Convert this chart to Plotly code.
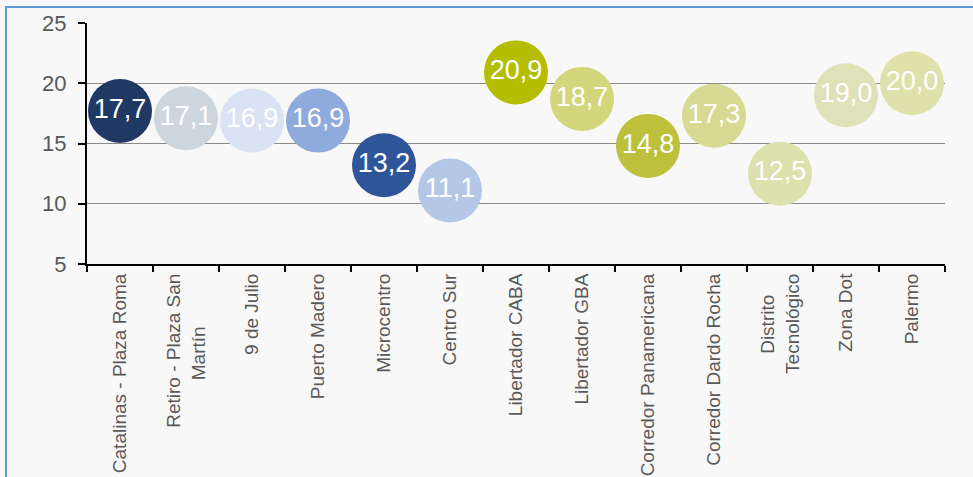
import plotly.graph_objects as go

NB = "\u00a0"
categories = ["Catalinas - Plaza Roma", "Retiro - Plaza San<br>Martín" + NB * 10, "9 de Julio", "Puerto Madero",
              "Microcentro", "Centro Sur", "Libertador CABA", "Libertador GBA",
              "Corredor Panamericana", "Corredor Dardo Rocha", "Distrito" + NB * 4 + "<br>Tecnológico",
              "Zona Dot", "Palermo"]
values = [17.7, 17.1, 16.9, 16.9, 13.2, 11.1, 20.9, 18.7, 14.8, 17.3, 12.5, 19.0, 20.0]
colors = ["#1f3864", "#cdd5dd", "#d9e3f3", "#8faadc", "#2e5597", "#b4c7e7", "#b5bd00",
          "#d3d67b", "#bcc03a", "#d6da92", "#dde1ad", "#dfe1b9", "#dee1a9"]
labels = [f"{v:.1f}".replace(".", ",") for v in values]
ytick_vals = [5, 10, 15, 20, 25]

fig = go.Figure()
fig.add_trace(go.Scatter(
    x=categories, y=values, mode="markers+text",
    marker=dict(size=64, color=colors, opacity=1, line=dict(width=0)),
    text=labels, textposition="middle center",
    textfont=dict(family="Liberation Sans, Arial", size=27, color="white"),
    cliponaxis=False, showlegend=False, hoverinfo="skip",
))

W, H = 973, 477
L, R, T, B = 87, 28, 23, 213
pw, ph = W - L - R, H - T - B

fig.update_layout(
    width=W, height=H,
    margin=dict(l=L, r=R, t=T, b=B, autoexpand=False),
    paper_bgcolor="#f8f8f8", plot_bgcolor="#f8f8f8",
    font=dict(family="Liberation Sans, Arial", color="#595959"),
    xaxis=dict(
        type="category", range=[-0.5, len(categories) - 0.5],
        showgrid=False, showline=True, linecolor="black", linewidth=2,
        ticks="outside", ticklen=6, tickwidth=2, tickcolor="black",
        tickson="boundaries", tickangle=-90,
        tickfont=dict(size=19, color="#595959"),
    ),
    yaxis=dict(
        range=[5, 25], tickvals=ytick_vals, ticktext=[str(v) for v in ytick_vals],
        showgrid=True, gridcolor="#8c8c8c", gridwidth=1,
        showline=True, linecolor="black", linewidth=2,
        ticks="outside", ticklen=7, tickwidth=2, tickcolor="black",
        ticklabelstandoff=7,
        tickfont=dict(size=22, color="#595959"), zeroline=False,
    ),
    shapes=[dict(
        type="rect", xref="paper", yref="paper",
        x0=(6 - L) / pw, x1=3, y0=-3, y1=(H - B - 7) / ph,
        line=dict(color="#5b9bd5", width=2), fillcolor="rgba(0,0,0,0)", layer="below",
    )],
)

fig.write_html(
    "out.html",
    config={"displayModeBar": False},
    post_script="document.body.style.margin='0';document.body.style.background='#f8f8f8';",
)
